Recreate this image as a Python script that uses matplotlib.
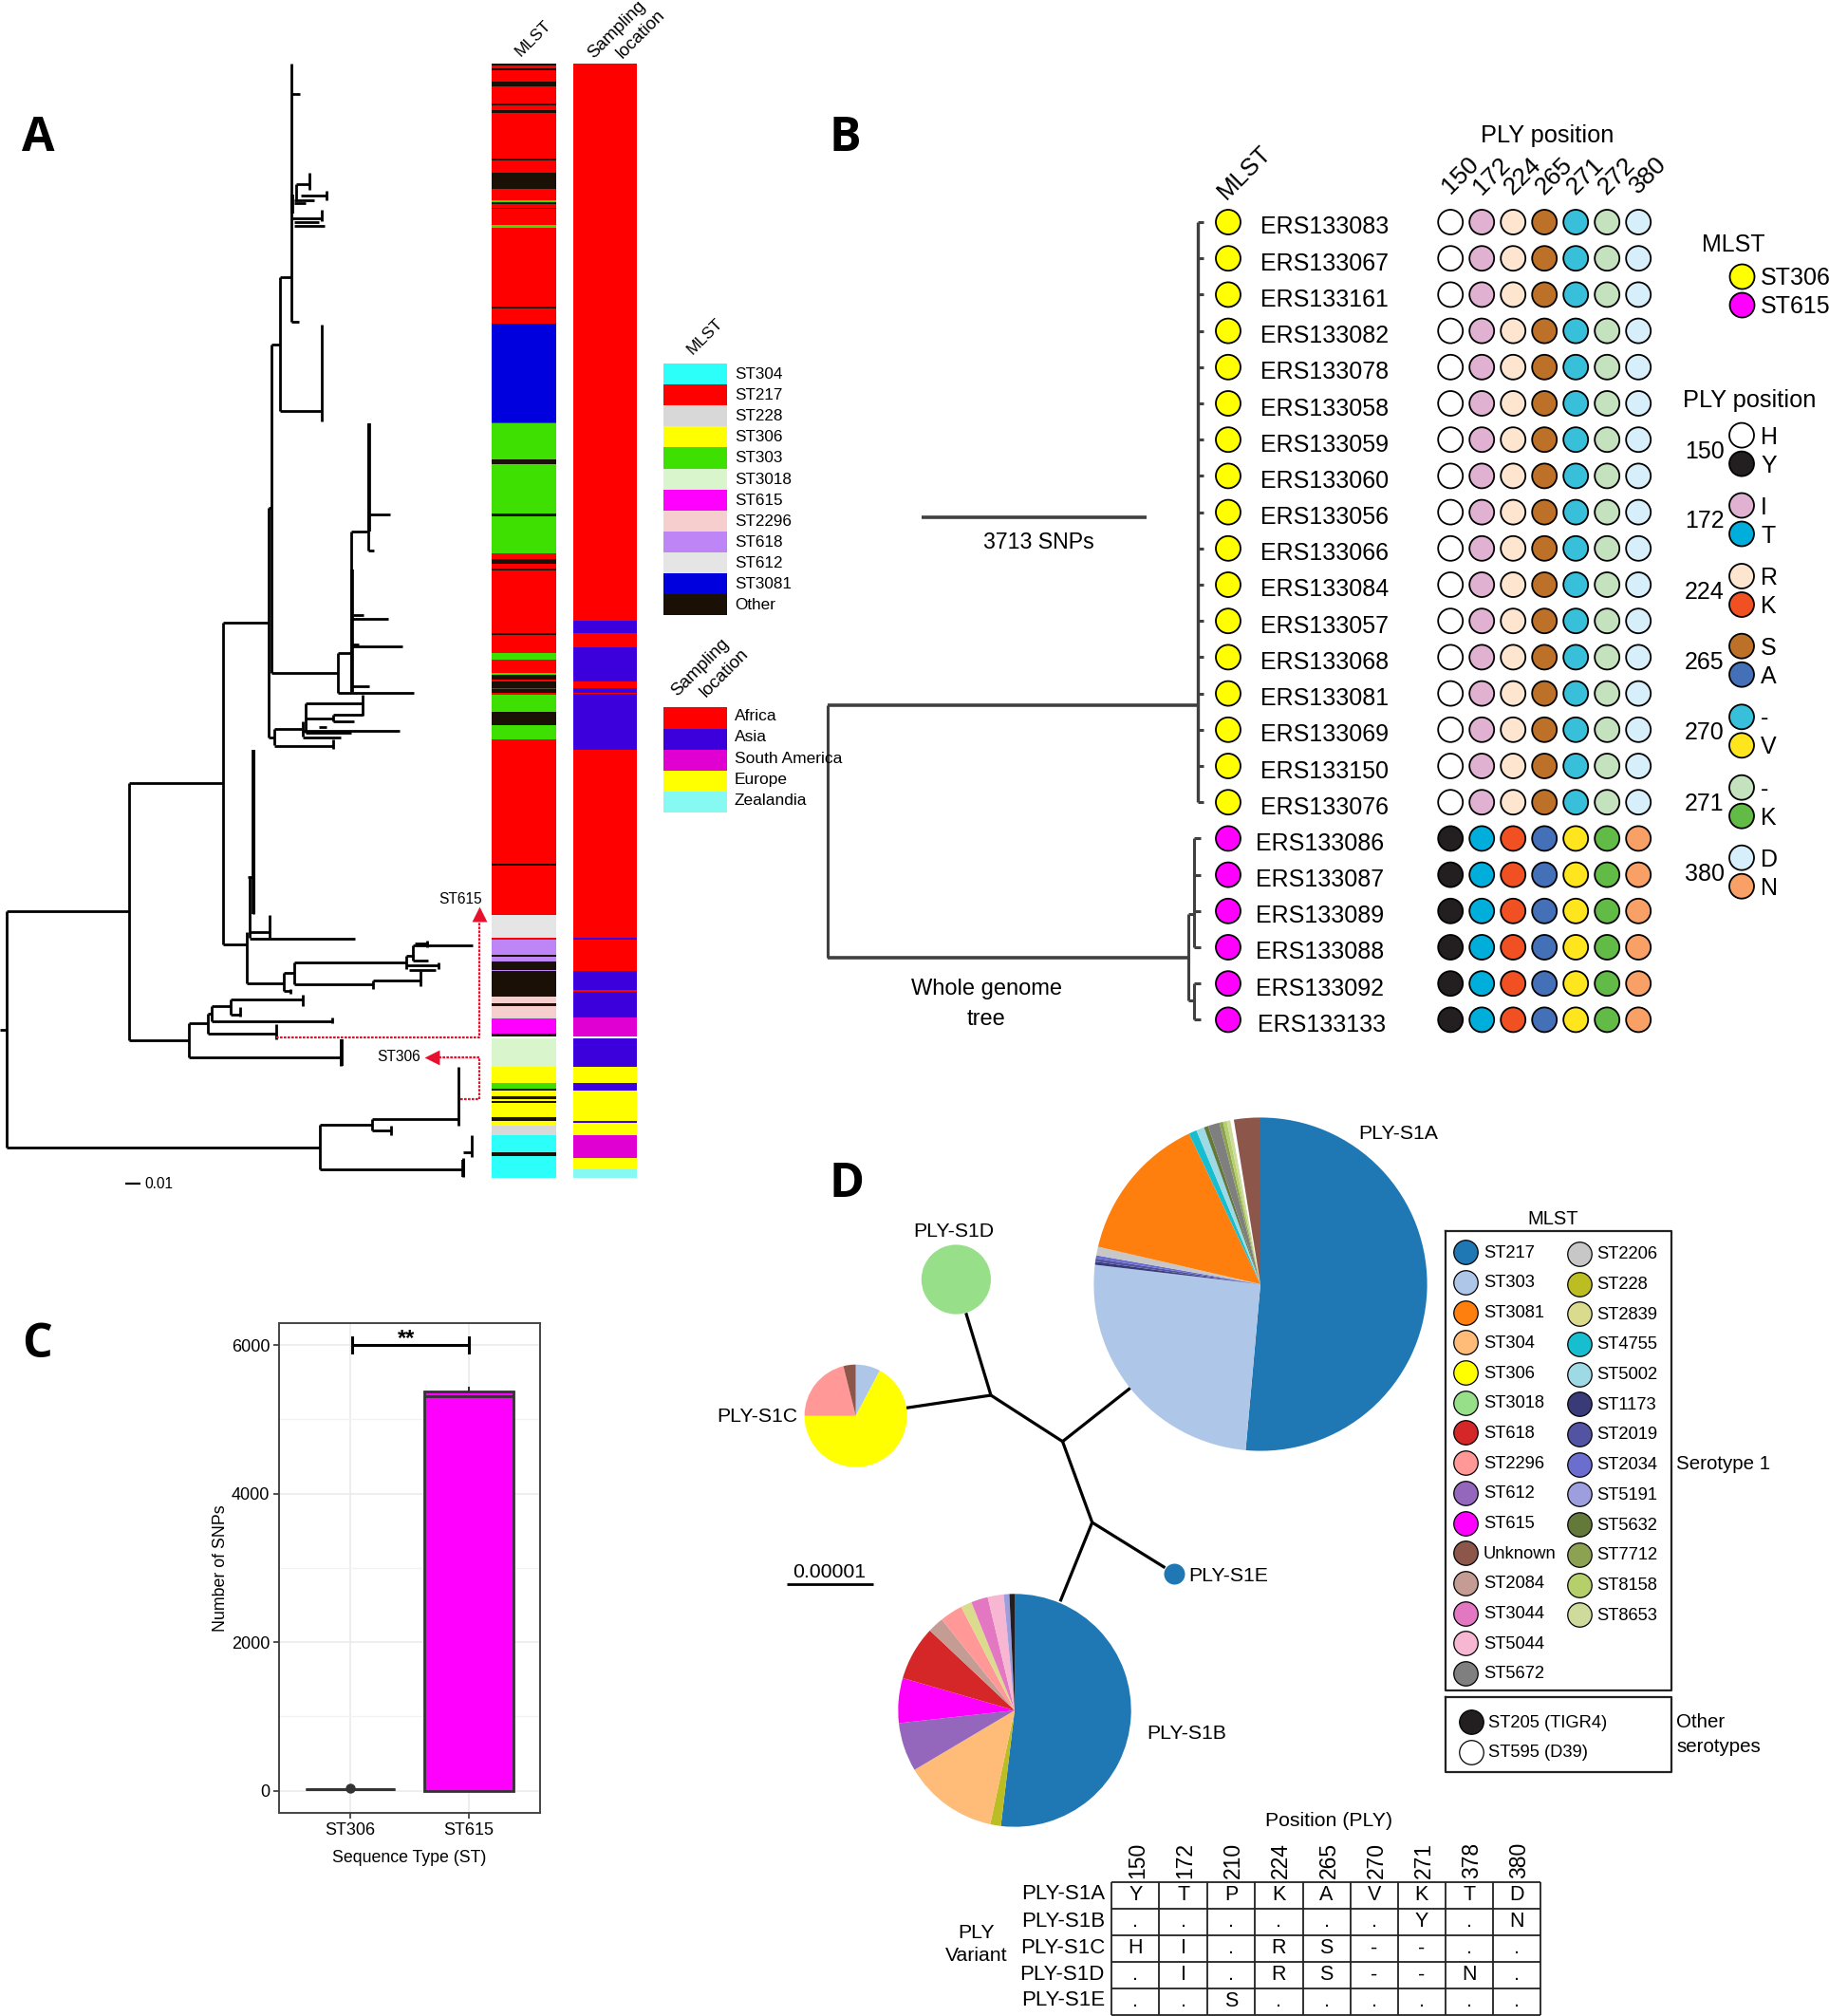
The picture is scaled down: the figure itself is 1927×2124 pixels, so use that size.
import numpy as np
import matplotlib
matplotlib.use("Agg")
import matplotlib.pyplot as plt

plt.rcParams['font.family'] = ['Liberation Sans', 'DejaVu Sans']

W, H = 1927, 2124

# ---- panel A data: colour strips (edges along the tree, categories between edges)
mlst_colors = {'ST304': '#2CFFFA', 'ST217': '#FF0000', 'ST228': '#D8D8D8', 'ST306': '#FFFF00',
               'ST303': '#3DE000', 'ST3018': '#D9F5CC', 'ST615': '#FF00FF', 'ST2296': '#F6CECE',
               'ST618': '#BD85F5', 'ST612': '#E5E5E5', 'ST3081': '#0000DE', 'Other': '#1A1006'}
loc_colors = {'Africa': '#FF0000', 'Asia': '#3C00DC', 'South America': '#E100D2',
              'Europe': '#FFFF00', 'Zealandia': '#85F9F2'}

mlst_edges = [66.5, 69.2, 72.3, 73.7, 85.7, 91.1, 108.5, 111.2, 115.6, 118.8, 166.5, 169.2, 182.1, 199.1,
              210.7, 212.9, 215.2, 218.8, 220.1, 237.1, 239.7, 322.8, 325.4, 340.6, 445.5, 484.4, 488.8,
              541.1, 544.2, 582.6, 588.8, 594.2, 598.7, 600.9, 667, 669.2, 688, 695.2, 708.9, 710.9, 716.3,
              718, 725, 726.3, 729.6, 731.7, 749.9, 764, 778.9, 910.4, 911.6, 964.3, 987.9, 990, 1005.7,
              1008.2, 1013.2, 1021.5, 1023.1, 1050.1, 1057.1, 1060.4, 1070.8, 1072.5, 1089.1, 1092.4, 1094,
              1123.5, 1140.9, 1146.7, 1149.2, 1154.6, 1157.5, 1159.5, 1162, 1176.9, 1181.1, 1185.6, 1196,
              1213.8, 1217.6, 1240.8]
mlst_cats = ['Other', 'ST217', 'Other', 'ST217', 'Other', 'ST217', 'Other', 'ST217', 'Other', 'ST217', 'Other',
             'ST217', 'Other', 'ST217', 'ST303', 'Other', 'ST217', 'Other', 'ST217', 'ST303', 'ST217', 'Other',
             'ST217', 'ST3081', 'ST303', 'Other', 'ST303', 'Other', 'ST303', 'ST217', 'Other', 'ST217', 'Other',
             'ST217', 'Other', 'ST217', 'ST303', 'ST217', 'ST303', 'Other', 'ST217', 'Other', 'ST217', 'Other',
             'ST217', 'ST303', 'Other', 'ST303', 'ST217', 'Other', 'ST217', 'ST612', 'ST217', 'ST618', 'Other',
             'ST618', 'Other', 'ST618', 'Other', 'ST2296', 'Other', 'ST2296', 'ST228', 'ST615', 'Other', None,
             'ST3018', 'ST306', 'ST303', 'Other', 'ST306', 'Other', 'ST306', 'Other', 'ST306', 'Other', 'ST306',
             'ST228', 'ST304', 'Other', 'ST304']

loc_edges = [66.5, 654, 667, 681.9, 718, 725, 729.6, 731.3, 789.7, 987.9, 990, 1023.1, 1042.6, 1045.1, 1071.6,
             1092, 1094, 1123.5, 1140.9, 1149.2, 1180.7, 1183.2, 1196, 1220.1, 1232.1, 1240.8]
loc_cats = ['Africa', 'Asia', 'Africa', 'Asia', 'Africa', 'Asia', 'Africa', 'Asia', 'Africa', 'Asia', 'Africa',
            'Asia', 'Africa', 'Asia', 'South America', None, 'Asia', 'Europe', 'Asia', 'Europe', 'Asia', 'Europe',
            'South America', 'Europe', 'Zealandia']

# tree branches: (y, x0, x1) and (x, y0, y1)
tree_h = [(99, 307, 316), (194, 312, 326), (206, 317, 344), (211, 310, 331), (214, 310, 322), (230, 308, 339),
          (234, 310, 336), (238, 310, 342), (339, 307, 315), (292.4, 295, 307), (433, 295, 339), (363, 286, 295),
          (535, 283, 286), (709, 286, 356), (776.5, 283, 289), (768, 289, 318), (785.6, 289, 351), (656, 235, 283),
          (688, 356, 370), (730, 356, 436), (560, 370, 387), (542, 388, 411), (580, 388, 394), (652, 370, 409),
          (648, 372, 383), (681, 370, 424), (679, 370, 378), (722.5, 370, 389),
          (741, 322, 382), (753, 351, 382), (760, 351, 373), (757, 322, 351), (770, 318.6, 421), (776.5, 318.6, 359),
          (772, 322, 370), (766, 336, 344), (923.6, 261, 267), (995, 235, 260), (981.7, 263, 284), (988.7, 263, 374),
          (1035.6, 260, 298.5), (1025, 298.5, 310), (1044, 298.5, 306), (1013.6, 310, 428), (1037, 310, 393),
          (1032.7, 393, 442.6), (1006.5, 428, 436), (1017, 428, 462), (1022, 430.5, 459), (996, 434.6, 498),
          (994, 437, 451), (1011.5, 434.6, 450.6),
          (825.4, 135.5, 235), (960, 7, 135.5), (1208.5, 7, 337), (1084.5, 0, 7), (1096, 135.5, 199),
          (1113.5, 199, 359), (1078, 199, 218.7), (1088.6, 218.7, 290.5), (1068, 218.7, 223), (1060.4, 223, 243),
          (1075.8, 223, 350), (1053.4, 243, 319), (1068.7, 243, 253),
          (1184.8, 337, 392), (1231.7, 337, 488), (1178.6, 392, 483), (1191, 392, 411.6), (1213.8, 488, 496.6)]
tree_v = [(307, 66.5, 339), (312, 194, 212), (326, 182, 200), (344, 201, 211), (339, 221, 233), (295, 292.4, 433),
          (339, 341.5, 444), (286, 363, 709), (283, 535, 776.5), (289, 768, 785), (356, 688, 730), (370, 560, 729),
          (388, 445.5, 580), (382, 732, 753.6), (322, 741, 772), (351, 753, 760), (351, 779, 789), (318.6, 760, 776),
          (267, 790, 963), (263, 923.6, 988), (260, 982, 1035.6), (235, 656, 995), (284, 964, 988), (298.5, 1025, 1044),
          (306, 1042, 1047), (310, 1013.6, 1037), (393, 1032.7, 1042), (442.6, 1023, 1039), (428, 1006.5, 1021),
          (462, 1013.6, 1021), (434.6, 996, 1011.5), (449.5, 991, 998), (135.5, 825.4, 1096), (7, 960, 1208.5),
          (199, 1078, 1113.5), (359, 1094.5, 1122.6), (218.7, 1068, 1088.6), (290.5, 1079, 1094.5), (223, 1060.4, 1075.8),
          (350, 1071.6, 1078.3), (243, 1053.4, 1068.7), (319, 1048, 1060.4), (253, 1061, 1071), (337, 1184.8, 1231.7),
          (392, 1178.6, 1191), (411.6, 1186, 1196), (483, 1123.5, 1185.6), (488, 1220, 1240), (496.6, 1196, 1219)]
tree_thick = [(308, 205, 225), (388.5, 445.5, 560), (371, 600, 729), (267, 790, 963), (360, 1094.5, 1122.6), (488, 1222, 1240)]

# ---- panel B data
ers_names = ['ERS133083', 'ERS133067', 'ERS133161', 'ERS133082', 'ERS133078', 'ERS133058', 'ERS133059', 'ERS133060',
             'ERS133056', 'ERS133066', 'ERS133084', 'ERS133057', 'ERS133068', 'ERS133081', 'ERS133069', 'ERS133150',
             'ERS133076', 'ERS133086', 'ERS133087', 'ERS133089', 'ERS133088', 'ERS133092', 'ERS133133']
ers_st = ['ST306'] * 17 + ['ST615'] * 6
ply_header = ['150', '172', '224', '265', '271', '272', '380']
ply_st306 = ['#FFFFFF', '#E1B1D2', '#FDE5D0', '#BC7028', '#38C0DB', '#C5E2BF', '#D7EEFB']
ply_st615 = ['#231F20', '#00AEDB', '#F15022', '#4470B8', '#FFE51D', '#62BB46', '#F9A066']
ply_legend_pos = ['150', '172', '224', '265', '270', '271', '380']
ply_legend_aa = [('H', 'Y'), ('I', 'T'), ('R', 'K'), ('S', 'A'), ('-', 'V'), ('-', 'K'), ('D', 'N')]
ply_legend_col = [('#FFFFFF', '#231F20'), ('#E1B1D2', '#00AEDB'), ('#FDE5D0', '#F15022'), ('#BC7028', '#4470B8'),
                  ('#38C0DB', '#FFE51D'), ('#C5E2BF', '#62BB46'), ('#D7EEFB', '#F9A066')]

# ---- panel C data
snp_st = ['ST306', 'ST615']
snp_stats = [dict(med=25, q1=25, q3=25, whislo=25, whishi=25, fliers=[33]),
             dict(med=5306, q1=0, q3=5379, whislo=0, whishi=5429, fliers=[])]

# ---- panel D data
st_colors = {'ST217': '#1F77B4', 'ST303': '#AEC7E8', 'ST3081': '#FF7F0E', 'ST304': '#FFBB78', 'ST306': '#FFFF00',
             'ST3018': '#98DF8A', 'ST618': '#D62728', 'ST2296': '#FF9896', 'ST612': '#9467BD', 'ST615': '#FF00FF',
             'Unknown': '#8C564B', 'ST2084': '#C49C94', 'ST3044': '#E377C2', 'ST5044': '#F7B6D2', 'ST5672': '#7F7F7F',
             'ST2206': '#C7C7C7', 'ST228': '#BCBD22', 'ST2839': '#DBDB8D', 'ST4755': '#17BECF', 'ST5002': '#9EDAE5',
             'ST1173': '#393B79', 'ST2019': '#5254A3', 'ST2034': '#6B6ECF', 'ST5191': '#9C9EDE', 'ST5632': '#637939',
             'ST7712': '#8CA252', 'ST8158': '#B5CF6B', 'ST8653': '#CEDB9C', 'ST205': '#231F20', 'ST595': '#FFFFFF'}
s1a_st = ['ST217', 'ST303', 'ST1173', 'ST2019', 'ST2034', 'ST2206', 'ST3081', 'ST4755', 'ST5002', 'ST5632', 'ST5672',
          'ST7712', 'ST8158', 'ST8653', 'ST595', 'Unknown']
s1a_deg = [185.1, 91.6, 1.1, 1.1, 1.1, 3.0, 51.6, 2.8, 2.8, 1.5, 4.0, 1.3, 1.3, 1.3, 1.2, 9.2]
s1b_st = ['ST217', 'ST228', 'ST304', 'ST612', 'ST615', 'ST618', 'ST2084', 'ST2296', 'ST2839', 'ST3044', 'ST5044',
          'ST5191', 'ST205']
s1b_deg = [186.8, 5.3, 47.2, 24.4, 22.4, 27.2, 8.0, 11.4, 5.5, 8.4, 8.0, 2.8, 2.6]
s1c_st = ['ST303', 'ST306', 'ST2296', 'Unknown']
s1c_deg = [28, 242, 76, 14]
s1d_st = ['ST3018']
s1d_deg = [360]

legend_col1 = ['ST217', 'ST303', 'ST3081', 'ST304', 'ST306', 'ST3018', 'ST618', 'ST2296', 'ST612', 'ST615', 'Unknown',
               'ST2084', 'ST3044', 'ST5044', 'ST5672']
legend_col2 = ['ST2206', 'ST228', 'ST2839', 'ST4755', 'ST5002', 'ST1173', 'ST2019', 'ST2034', 'ST5191', 'ST5632',
               'ST7712', 'ST8158', 'ST8653']
legend_other = [('ST205', 'ST205 (TIGR4)'), ('ST595', 'ST595 (D39)')]

table_pos = ['150', '172', '210', '224', '265', '270', '271', '378', '380']
table_var = ['PLY-S1A', 'PLY-S1B', 'PLY-S1C', 'PLY-S1D', 'PLY-S1E']
table_rows = [['Y', 'T', 'P', 'K', 'A', 'V', 'K', 'T', 'D'],
              ['.', '.', '.', '.', '.', '.', 'Y', '.', 'N'],
              ['H', 'I', '.', 'R', 'S', '-', '-', '.', '.'],
              ['.', 'I', '.', 'R', 'S', '-', '-', 'N', '.'],
              ['.', '.', 'S', '.', '.', '.', '.', '.', '.']]


def dots(ax, x, y, colors, d=26, lw=1.3):
    # d is the dot diameter in figure pixels
    ax.scatter(x, y, s=(d * 0.72) ** 2, c=colors, edgecolors='black', linewidths=lw, zorder=4)


def add_pie(cx, cy, r, names, deg):
    a = fig.add_axes([(cx - r) / W, 1 - (cy + r) / H, 2 * r / W, 2 * r / H])
    a.pie(deg, colors=[st_colors[n] for n in names], startangle=90, counterclock=False, radius=1)
    a.set_xlim(-1, 1)
    a.set_ylim(-1, 1)
    return a


fig = plt.figure(figsize=(W / 100, H / 100), dpi=100)
ax = fig.add_axes([0, 0, 1, 1])
ax.set_xlim(0, W)
ax.set_ylim(H, 0)
ax.axis('off')


def put(x, y, s, **kw):
    # liberation sits a bit high with va=center, push everything down
    kw.setdefault('ha', 'center')
    kw.setdefault('va', 'center')
    ax.text(x, y + 2, s, **kw)


# panel letters
for s, x, y in [('A', 40, 146), ('B', 890, 146), ('C', 39, 1417), ('D', 892, 1248)]:
    ax.text(x, y, s, family='Open Sans', weight='bold', fontsize=36, ha='center', va='center')

# ---- A: tree
for y, x0, x1 in tree_h:
    ax.hlines(y, x0, x1, color='black', lw=2)
for x, y0, y1 in tree_v:
    ax.vlines(x, y0, y1, color='black', lw=2)
for x, y0, y1 in tree_thick:
    ax.vlines(x, y0, y1, color='black', lw=2.7)

# ---- A: strips
def strip(x0, x1, edges, cats, colors):
    e = np.array(edges)
    ax.barh(e[0], x1 - x0, left=x0, height=e[-1] - e[0], align='edge', color=colors[cats[1]], linewidth=0)
    c = [colors[k] if k else 'white' for k in cats]
    ax.barh(e[:-1], x1 - x0, left=x0, height=np.diff(e), align='edge', color=c, linewidth=0, antialiased=False)

strip(518, 585.5, mlst_edges, mlst_cats, mlst_colors)
strip(604, 671, loc_edges, loc_cats, loc_colors)

put(562, 38, 'MLST', fontsize=12.5, rotation=45)
put(650, 29, 'Sampling', fontsize=13.5, rotation=45)
put(675, 34, 'location', fontsize=13.5, rotation=45)

# arrows between the tree and the ST labels
red = '#E8112D'
dash = (0, (1.2, 0.6))
ax.plot([290.5, 505, 505], [1092.8, 1092.8, 969], color=red, lw=1.6, ls=dash)
ax.plot([485, 505, 505, 462], [1158, 1158, 1113.5, 1113.5], color=red, lw=1.6, ls=dash)
ax.scatter([505], [963], marker='^', s=130, color=red, linewidths=0, zorder=4)
ax.scatter([455], [1113.5], marker='<', s=130, color=red, linewidths=0, zorder=4)
put(485, 945, 'ST615', fontsize=11.2)
put(420, 1112, 'ST306', fontsize=11.2)
ax.hlines(1247.4, 131.5, 147.5, color='black', lw=1.6)
put(152, 1246, '0.01', fontsize=11.2, ha='left')

# ---- A: legends
names = list(mlst_colors)
for i, n in enumerate(names):
    y0 = 383 + 22.1 * i
    ax.barh(y0, 67, left=699, height=22.1, align='edge', color=mlst_colors[n], linewidth=0)
    put(774, y0 + 9.5, n, fontsize=12.3, ha='left')
put(743, 352, 'MLST', fontsize=12.5, rotation=45)
names = list(loc_colors)
for i, n in enumerate(names):
    y0 = 745.4 + 22.2 * i
    ax.barh(y0, 67, left=699, height=22.2, align='edge', color=loc_colors[n], linewidth=0)
    put(774, y0 + 7.2, n, fontsize=12.5, ha='left', zorder=5)
put(738, 701, 'Sampling', fontsize=13.5, rotation=45)
put(763, 707, 'location', fontsize=13.5, rotation=45)

# ---- B: tree and tips
row_y = 234 + 38.2 * np.arange(len(ers_names))
col_x = 1528.2 + 33 * np.arange(len(ply_header))
line_c = '#404040'
ax.vlines(1261.5, row_y[0], row_y[16], color=line_c, lw=2.4)
ax.hlines(row_y[:17], 1261.5, 1268, color=line_c, lw=2.2)
ax.vlines(1258, row_y[17], row_y[20], color=line_c, lw=2.2)
ax.hlines(row_y[17:], 1258, 1265, color=line_c, lw=2.2)
ax.vlines(1258, row_y[21], row_y[22], color=line_c, lw=2.2)
ax.vlines(1252, 962.7, 1054, color=line_c, lw=2.2)
ax.hlines([962.7, 1054], 1252, 1258, color=line_c, lw=2.2)
ax.vlines(872, 742.7, 1008.7, color=line_c, lw=2.2)
ax.hlines(742.7, 872, 1261.5, color=line_c, lw=2.6)
ax.hlines(1008.7, 872, 1252.6, color=line_c, lw=2.6)
ax.hlines(545.4, 971, 1208, color=line_c, lw=2.6)
put(1094, 570, '3713 SNPs', fontsize=16.7)
put(1039, 1040, 'Whole genome', fontsize=17)
put(1039, 1072, 'tree', fontsize=17)

st_dot = {'ST306': '#FFFF00', 'ST615': '#FF00FF'}
dots(ax, [1294] * len(row_y), row_y, [st_dot[s] for s in ers_st])
for i, (n, y) in enumerate(zip(ers_names, row_y)):
    x = 1327.5 if i < 17 else 1323.4
    if n == 'ERS133133':
        x = 1325
    put(x, y + 3.5, n, fontsize=18, ha='left')
    cols = ply_st306 if ers_st[i] == 'ST306' else ply_st615
    dots(ax, col_x, [y] * len(col_x), cols)

put(1630, 141, 'PLY position', fontsize=18.3)
put(1311, 180, 'MLST', fontsize=18.5, rotation=45)
for x, s in zip(col_x, ply_header):
    put(x + 10, 183, s, fontsize=19, rotation=45)

put(1826, 256.4, 'MLST', fontsize=18)
for s, y in zip(['ST306', 'ST615'], [290.7, 320.7]):
    dots(ax, [1835], [y], [st_dot[s]])
    put(1855, y, s, fontsize=18, ha='left')
put(1843, 419.6, 'PLY position', fontsize=18.3)
leg_top = [458.6, 532.5, 607, 680.7, 755.3, 829.7, 903.7]
for p, aa, cc, y in zip(ply_legend_pos, ply_legend_aa, ply_legend_col, leg_top):
    put(1795.7, y + 15, p, fontsize=18)
    dots(ax, [1835, 1835], [y, y + 30], list(cc))
    put(1855, y, aa[0], fontsize=18, ha='left')
    put(1855, y + 30, aa[1], fontsize=18, ha='left')

# ---- C: box plot of SNP distances
axc = fig.add_axes([294 / W, 1 - 1910 / H, 275 / W, 516 / H])
axc.set_axisbelow(True)
axc.grid(True, which='major', color='#EBEBEB', lw=1.2)
axc.set_yticks([1000, 3000, 5000], minor=True)
axc.grid(True, which='minor', axis='y', color='#F2F2F2', lw=0.9)
axc.tick_params(which='minor', length=0)
bp = axc.bxp(snp_stats, positions=[1, 2], widths=0.75, patch_artist=True, showcaps=False, manage_ticks=False,
             boxprops=dict(facecolor='#FF00FF', edgecolor='#333333', lw=2),
             medianprops=dict(color='#333333', lw=2), whiskerprops=dict(color='#333333', lw=1.5),
             flierprops=dict(marker='o', mfc='#333333', mec='#333333', ms=6.5))
axc.set_xlim(0.4, 2.6)
axc.set_ylim(-299, 6295)
axc.set_xticks([1, 2])
axc.set_xticklabels(snp_st)
axc.set_yticks([0, 2000, 4000, 6000])
axc.tick_params(axis='both', which='major', labelsize=13, color='#333333', length=4, width=1.2, pad=3)
for s in axc.spines.values():
    s.set_color('#444444')
    s.set_linewidth(1.4)
axc.set_xlabel('Sequence Type (ST)', fontsize=12.8, labelpad=9)
axc.set_ylabel('Number of SNPs', fontsize=12.8, labelpad=2)
axc.plot([1.016, 2], [6000, 6000], color='black', lw=2.2)
axc.plot([1.016, 1.016], [5900, 6100], color='black', lw=2.2)
axc.plot([2, 2], [5900, 6100], color='black', lw=2.2)
axc.text(1.47, 6080, '**', fontsize=17, weight='bold', ha='center', va='center')

# ---- D: variant tree (nodes and branches)
branches = [((1044, 1470), (1017.7, 1383.3)), ((1044, 1470), (955, 1483.3)), ((1044, 1470), (1119.5, 1518.7)),
            ((1119.5, 1518.7), (1191, 1462.3)), ((1119.5, 1518.7), (1150.7, 1604)),
            ((1150.7, 1604), (1227.5, 1651.7)), ((1150.7, 1604), (1117, 1687.3))]
for a, b in branches:
    ax.plot([a[0], b[0]], [a[1], b[1]], color='black', lw=2.3, solid_capstyle='butt')

add_pie(1328, 1353, 175.6, s1a_st, s1a_deg)
add_pie(1069, 1802, 122.7, s1b_st, s1b_deg)
add_pie(901.6, 1491.7, 54, s1c_st, s1c_deg)
add_pie(1007.4, 1348, 36.6, s1d_st, s1d_deg)
ax.scatter([1237.3], [1658], s=(22 * 0.72) ** 2, color='#1F77B4', linewidths=0, zorder=4)

put(1431, 1193, 'PLY-S1A', fontsize=15.3, ha='left')
put(1208, 1825, 'PLY-S1B', fontsize=15.3, ha='left')
put(798, 1490.7, 'PLY-S1C', fontsize=15.3)
put(1005, 1295.7, 'PLY-S1D', fontsize=15.3)
put(1252, 1658, 'PLY-S1E', fontsize=15.3, ha='left')
put(874, 1654.7, '0.00001', fontsize=15.3)
ax.hlines(1669, 829, 919.5, color='black', lw=2)

# ---- D: legend boxes
put(1636, 1283, 'MLST', fontsize=14.5)
ax.plot([1523.3, 1761, 1761, 1523.3, 1523.3], [1296.9, 1296.9, 1781, 1781, 1296.9], color='#222222', lw=1.6)
ax.plot([1523.3, 1761, 1761, 1523.3, 1523.3], [1788, 1788, 1867, 1867, 1788], color='#222222', lw=1.6)
for i, n in enumerate(legend_col1):
    y = 1318.2 + 31.7 * i
    dots(ax, [1544], [y + 1], [st_colors[n]], d=25.5, lw=0.9)
    put(1563, y, n, fontsize=13.2, ha='left')
for i, n in enumerate(legend_col2):
    y = 1319.8 + 31.7 * i
    dots(ax, [1663.5], [y + 1], [st_colors[n]], d=25.5, lw=0.9)
    put(1682.7, y, n, fontsize=13.2, ha='left')
for (n, s), y in zip(legend_other, [1813, 1844.7]):
    dots(ax, [1549.5], [y + 1], [st_colors[n]], d=25.5, lw=0.9)
    put(1568.5, y, s, fontsize=13.2, ha='left')
put(1766, 1540.8, 'Serotype 1', fontsize=14.8, ha='left')
put(1766, 1812, 'Other', fontsize=14.8, ha='left')
put(1766, 1839, 'serotypes', fontsize=14.8, ha='left')

# ---- D: variant table
tx = [1171.3, 1221.4, 1271.9, 1322, 1372.5, 1422.6, 1472.7, 1522.7, 1572.8, 1622.9]
ty = [1982.7, 2011, 2039, 2067, 2095, 2122.7]
ax.vlines(tx, ty[0], ty[-1], color='#222222', lw=1.3)
ax.hlines(ty, tx[0], tx[-1], color='#222222', lw=1.3)
for j, p in enumerate(table_pos):
    xc = (tx[j] + tx[j + 1]) / 2
    put(xc + 2.5, 1958, p, fontsize=16.5, rotation=90)
    for i, row in enumerate(table_rows):
        ax.text(xc, (ty[i] + ty[i + 1]) / 2, row[j], fontsize=15.5, ha='center', va='center')
for i, v in enumerate(table_var):
    put(1164, (ty[i] + ty[i + 1]) / 2 - 3, v, fontsize=16, ha='right')
put(1400, 1916, 'Position (PLY)', fontsize=15.3)
put(1029, 2034, 'PLY', fontsize=15.3)
put(1029, 2059, 'Variant', fontsize=15.3)

fig.savefig('out.png', dpi=100)
